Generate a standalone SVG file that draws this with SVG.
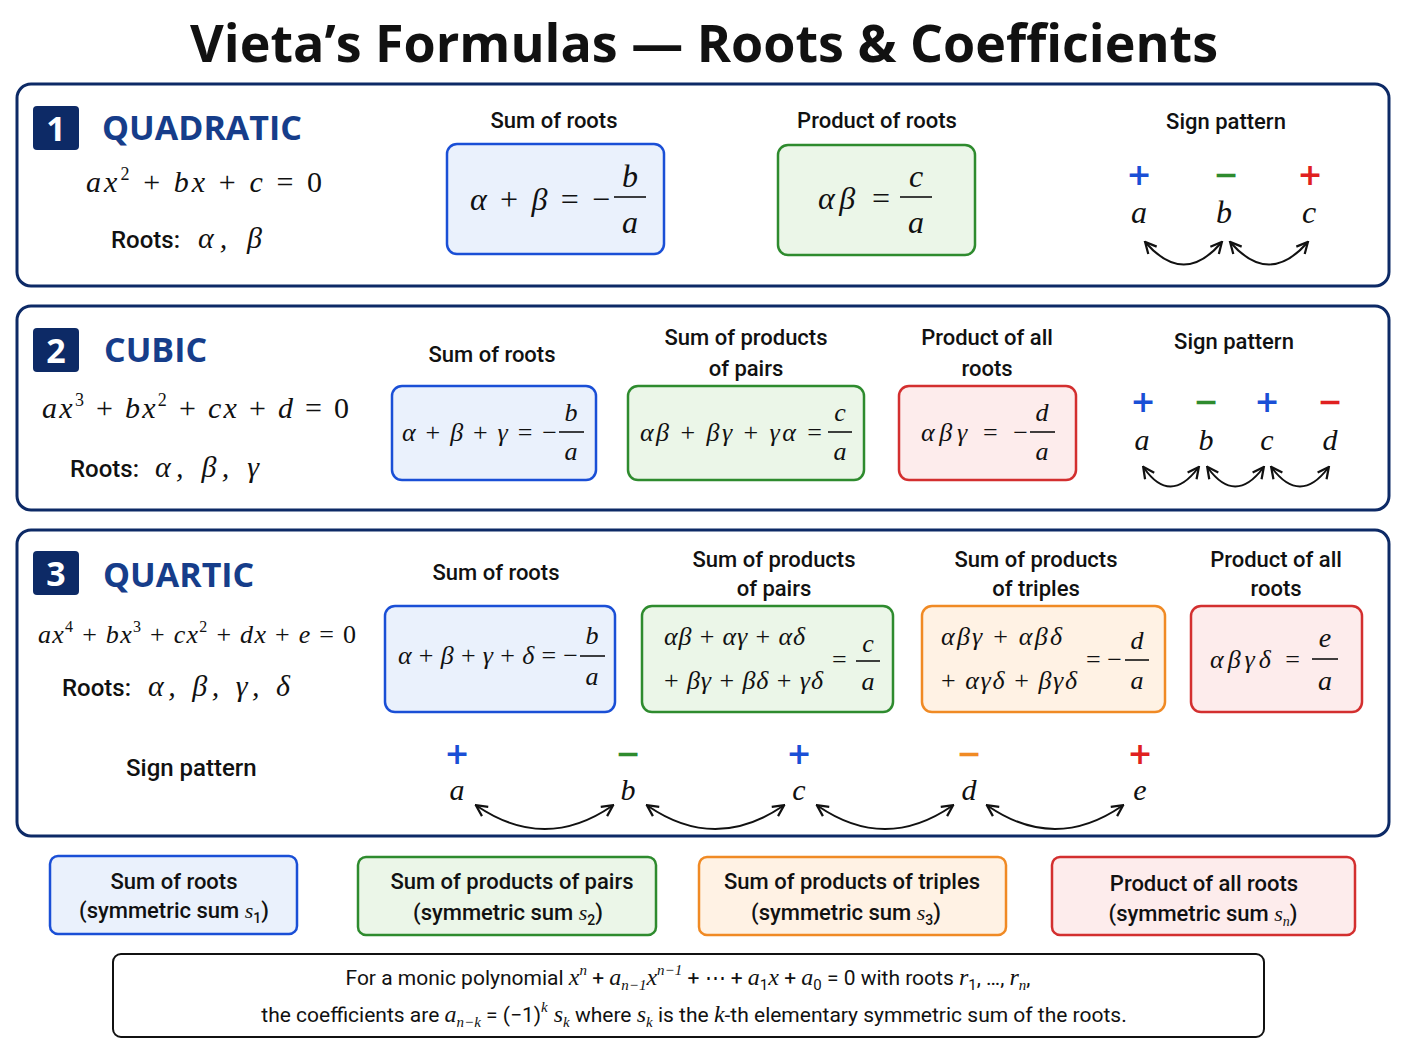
<svg xmlns="http://www.w3.org/2000/svg" width="1408" height="1056" viewBox="0 0 1408 1056">
<style>
.panel{fill:#fff;stroke:#0d2a66;stroke-width:3}
.badge{fill:#0d2a66}
.bt{font-family:"Open Sans","Liberation Sans",sans-serif;font-weight:700;font-size:34px;fill:#fff;text-anchor:middle}
.ttl{font-family:"Open Sans","Liberation Sans",sans-serif;font-weight:700;font-size:34px;fill:#163d8a}
.m{font-family:"Liberation Serif","DejaVu Serif",serif;font-style:italic;fill:#111}
.r{font-family:"Liberation Serif","DejaVu Serif",serif;fill:#111}
.h{font-family:"Roboto","Liberation Sans",sans-serif;font-weight:500;font-size:22px;fill:#111;text-anchor:middle}
.lbl{font-family:"Roboto","Liberation Sans",sans-serif;font-weight:500;font-size:24px;fill:#111}
.blue{fill:#eaf1fc;stroke:#1a4fd6;stroke-width:2.5}
.green{fill:#ebf6e8;stroke:#2e8b2e;stroke-width:2.5}
.red{fill:#fdecec;stroke:#d32f2f;stroke-width:2.5}
.orange{fill:#fff2e4;stroke:#f08a24;stroke-width:2.5}
.fl{stroke:#111;stroke-width:1.6}
.arc{fill:none;stroke:#111;stroke-width:2;marker-start:url(#ah);marker-end:url(#ah)}
.sg{font-family:"DejaVu Sans",sans-serif;font-size:30px;text-anchor:middle;font-weight:700}
.c{text-anchor:middle}
</style>
<defs>
<marker id="ah" viewBox="0 0 10 10" refX="8" refY="5" markerWidth="7" markerHeight="7" orient="auto-start-reverse"><path d="M1,1 L9,5 L1,9" fill="none" stroke="#111" stroke-width="1.6"/></marker>
</defs>
<rect width="1408" height="1056" fill="#fff"/>
<text x="704" y="62" text-anchor="middle" font-family="Open Sans,Liberation Sans,sans-serif" font-weight="700" font-size="52" fill="#111">Vieta’s Formulas — Roots &amp; Coefficients</text>

<g id="panel1">
<rect class="panel" x="17" y="84" width="1372" height="202" rx="14"/>
<rect class="badge" x="33" y="106" width="46" height="44" rx="4"/><text class="bt" x="56" y="141">1</text>
<text class="ttl" x="102" y="140">QUADRATIC</text>
<text class="m" x="86" y="192" font-size="30" textLength="236" lengthAdjust="spacing">ax<tspan font-size="18" dy="-12" font-style="normal">2</tspan><tspan dy="12" font-style="normal"> + </tspan>bx<tspan font-style="normal"> + </tspan>c<tspan font-style="normal"> = 0</tspan></text>
<text class="lbl" x="111" y="248">Roots:</text><text class="m" x="198" y="248" font-size="30" textLength="64" lengthAdjust="spacing">α, β</text>
<text class="h" x="554" y="128">Sum of roots</text>
<rect class="blue" x="447" y="144" width="217" height="110" rx="10"/>
<text class="m" x="470" y="210" font-size="32" textLength="140" lengthAdjust="spacing">α<tspan font-style="normal"> + </tspan>β<tspan font-style="normal"> = −</tspan></text>
<text class="m c" x="630" y="187" font-size="32">b</text><line class="fl" x1="614" y1="197" x2="646" y2="197"/><text class="m c" x="630" y="233" font-size="32">a</text>
<text class="h" x="877" y="128">Product of roots</text>
<rect class="green" x="778" y="145" width="197" height="110" rx="10"/>
<text class="m" x="818" y="209" font-size="32" textLength="72" lengthAdjust="spacing">αβ<tspan font-style="normal"> =</tspan></text>
<text class="m c" x="916" y="187" font-size="32">c</text><line class="fl" x1="900" y1="197" x2="932" y2="197"/><text class="m c" x="916" y="233" font-size="32">a</text>
<text class="h" x="1226" y="129">Sign pattern</text>
<text class="sg" x="1139" y="185" fill="#1a4fd6">+</text><text class="sg" x="1226" y="185" fill="#2e8b2e">−</text><text class="sg" x="1310" y="185" fill="#e02020">+</text>
<text class="m c" x="1139" y="223" font-size="32">a</text><text class="m c" x="1224" y="223" font-size="32">b</text><text class="m c" x="1309" y="223" font-size="32">c</text>
</g>

<g id="panel2">
<rect class="panel" x="17" y="306" width="1372" height="204" rx="14"/>
<rect class="badge" x="33" y="328" width="46" height="44" rx="4"/><text class="bt" x="56" y="363">2</text>
<text class="ttl" x="104" y="362">CUBIC</text>
<text class="m" x="42" y="418" font-size="30" textLength="307" lengthAdjust="spacing">ax<tspan font-size="18" dy="-12" font-style="normal">3</tspan><tspan dy="12" font-style="normal"> + </tspan>bx<tspan font-size="18" dy="-12" font-style="normal">2</tspan><tspan dy="12" font-style="normal"> + </tspan>cx<tspan font-style="normal"> + </tspan>d<tspan font-style="normal"> = 0</tspan></text>
<text class="lbl" x="70" y="477">Roots:</text><text class="m" x="155" y="477" font-size="30" textLength="104" lengthAdjust="spacing">α, β, γ</text>
<text class="h" x="492" y="362">Sum of roots</text>
<rect class="blue" x="392" y="386" width="204" height="94" rx="10"/>
<text class="m" x="402" y="441" font-size="26" textLength="155" lengthAdjust="spacing">α<tspan font-style="normal"> + </tspan>β<tspan font-style="normal"> + </tspan>γ<tspan font-style="normal"> = −</tspan></text>
<text class="m c" x="571" y="421" font-size="26">b</text><line class="fl" x1="559" y1="432" x2="584" y2="432"/><text class="m c" x="571" y="460" font-size="26">a</text>
<text class="h" x="746" y="345">Sum of products</text><text class="h" x="746" y="376">of pairs</text>
<rect class="green" x="628" y="386" width="236" height="94" rx="10"/>
<text class="m" x="640" y="441" font-size="26" textLength="182" lengthAdjust="spacing">αβ<tspan font-style="normal"> + </tspan>βγ<tspan font-style="normal"> + </tspan>γα<tspan font-style="normal"> =</tspan></text>
<text class="m c" x="840" y="421" font-size="26">c</text><line class="fl" x1="828" y1="432" x2="852" y2="432"/><text class="m c" x="840" y="460" font-size="26">a</text>
<text class="h" x="987" y="345">Product of all</text><text class="h" x="987" y="376">roots</text>
<rect class="red" x="899" y="386" width="177" height="94" rx="10"/>
<text class="m" x="921" y="441" font-size="26" textLength="107" lengthAdjust="spacing">αβγ<tspan font-style="normal"> = −</tspan></text>
<text class="m c" x="1042" y="421" font-size="26">d</text><line class="fl" x1="1030" y1="432" x2="1055" y2="432"/><text class="m c" x="1042" y="460" font-size="26">a</text>
<text class="h" x="1234" y="349">Sign pattern</text>
<text class="sg" x="1143" y="412" fill="#1a4fd6">+</text><text class="sg" x="1206" y="412" fill="#2e8b2e">−</text><text class="sg" x="1267" y="412" fill="#1a4fd6">+</text><text class="sg" x="1330" y="412" fill="#e02020">−</text>
<text class="m c" x="1142" y="450" font-size="30">a</text><text class="m c" x="1206" y="450" font-size="30">b</text><text class="m c" x="1267" y="450" font-size="30">c</text><text class="m c" x="1330" y="450" font-size="30">d</text>
</g>

<g id="panel3">
<rect class="panel" x="17" y="530" width="1372" height="306" rx="14"/>
<rect class="badge" x="33" y="551" width="46" height="44" rx="4"/><text class="bt" x="56" y="586">3</text>
<text class="ttl" x="103" y="587">QUARTIC</text>
<text class="m" x="38" y="643" font-size="26" textLength="318" lengthAdjust="spacing">ax<tspan font-size="16" dy="-11" font-style="normal">4</tspan><tspan dy="11" font-style="normal"> + </tspan>bx<tspan font-size="16" dy="-11" font-style="normal">3</tspan><tspan dy="11" font-style="normal"> + </tspan>cx<tspan font-size="16" dy="-11" font-style="normal">2</tspan><tspan dy="11" font-style="normal"> + </tspan>dx<tspan font-style="normal"> + </tspan>e<tspan font-style="normal"> = 0</tspan></text>
<text class="lbl" x="62" y="696">Roots:</text><text class="m" x="148" y="696" font-size="30" textLength="142" lengthAdjust="spacing">α, β, γ, δ</text>
<text class="h" x="496" y="580">Sum of roots</text>
<rect class="blue" x="385" y="606" width="230" height="106" rx="10"/>
<text class="m" x="398" y="664" font-size="26" textLength="180" lengthAdjust="spacing">α<tspan font-style="normal"> + </tspan>β<tspan font-style="normal"> + </tspan>γ<tspan font-style="normal"> + </tspan>δ<tspan font-style="normal"> = −</tspan></text>
<text class="m c" x="592" y="644" font-size="26">b</text><line class="fl" x1="580" y1="656" x2="605" y2="656"/><text class="m c" x="592" y="685" font-size="26">a</text>
<text class="h" x="774" y="567">Sum of products</text><text class="h" x="774" y="596">of pairs</text>
<rect class="green" x="642" y="606" width="251" height="106" rx="10"/>
<text class="m" x="664" y="645" font-size="26" textLength="141" lengthAdjust="spacing">αβ<tspan font-style="normal"> + </tspan>αγ<tspan font-style="normal"> + </tspan>αδ</text>
<text class="m" x="664" y="689" font-size="26" textLength="159" lengthAdjust="spacing"><tspan font-style="normal">+ </tspan>βγ<tspan font-style="normal"> + </tspan>βδ<tspan font-style="normal"> + </tspan>γδ</text>
<text class="r" x="832" y="668" font-size="26">=</text>
<text class="m c" x="868" y="652" font-size="26">c</text><line class="fl" x1="856" y1="661" x2="880" y2="661"/><text class="m c" x="868" y="690" font-size="26">a</text>
<text class="h" x="1036" y="567">Sum of products</text><text class="h" x="1036" y="596">of triples</text>
<rect class="orange" x="922" y="606" width="243" height="106" rx="10"/>
<text class="m" x="941" y="645" font-size="26" textLength="121" lengthAdjust="spacing">αβγ<tspan font-style="normal"> + </tspan>αβδ</text>
<text class="m" x="941" y="689" font-size="26" textLength="136" lengthAdjust="spacing"><tspan font-style="normal">+ </tspan>αγδ<tspan font-style="normal"> + </tspan>βγδ</text>
<text class="r" x="1086" y="668" font-size="26">= −</text>
<text class="m c" x="1137" y="649" font-size="26">d</text><line class="fl" x1="1125" y1="660" x2="1149" y2="660"/><text class="m c" x="1137" y="689" font-size="26">a</text>
<text class="h" x="1276" y="567">Product of all</text><text class="h" x="1276" y="596">roots</text>
<rect class="red" x="1191" y="606" width="171" height="106" rx="10"/>
<text class="m" x="1210" y="668" font-size="26" textLength="90" lengthAdjust="spacing">αβγδ<tspan font-style="normal"> =</tspan></text>
<text class="m c" x="1325" y="647" font-size="28">e</text><line class="fl" x1="1312" y1="659" x2="1338" y2="659"/><text class="m c" x="1325" y="690" font-size="28">a</text>
<text class="lbl" x="126" y="776">Sign pattern</text>
<text class="sg" x="457" y="764" fill="#1a4fd6">+</text><text class="sg" x="628" y="764" fill="#2e8b2e">−</text><text class="sg" x="799" y="764" fill="#1a4fd6">+</text><text class="sg" x="969" y="764" fill="#f08a24">−</text><text class="sg" x="1140" y="764" fill="#e02020">+</text>
<text class="m c" x="457" y="800" font-size="30">a</text><text class="m c" x="628" y="800" font-size="30">b</text><text class="m c" x="799" y="800" font-size="30">c</text><text class="m c" x="969" y="800" font-size="30">d</text><text class="m c" x="1140" y="800" font-size="30">e</text>
</g>

<g id="connectors">
<path class="arc" d="M1146,243 Q1184,286 1221,243"/>
<path class="arc" d="M1231,243 Q1269,286 1307,243"/>
<path class="arc" d="M1144,468 Q1170,505 1198,468"/>
<path class="arc" d="M1208,468 Q1235,505 1263,468"/>
<path class="arc" d="M1272,468 Q1300,505 1328,468"/>
<path class="arc" d="M477,806 Q545,852 612,806"/>
<path class="arc" d="M648,806 Q715,852 783,806"/>
<path class="arc" d="M818,806 Q885,852 952,806"/>
<path class="arc" d="M988,806 Q1055,852 1122,806"/>
</g>

<g id="legend">
<rect class="blue" x="50" y="856" width="247" height="78" rx="8"/>
<text class="h" x="174" y="889">Sum of roots</text><text class="h" x="174" y="918" font-weight="400">(symmetric sum <tspan class="m">s</tspan><tspan font-size="14" dy="5">1</tspan><tspan dy="-5">)</tspan></text>
<rect class="green" x="358" y="857" width="298" height="78" rx="8"/>
<text class="h" x="512" y="889">Sum of products of pairs</text><text class="h" x="508" y="920" font-weight="400">(symmetric sum <tspan class="m">s</tspan><tspan font-size="14" dy="5">2</tspan><tspan dy="-5">)</tspan></text>
<rect class="orange" x="699" y="857" width="307" height="78" rx="8"/>
<text class="h" x="852" y="889">Sum of products of triples</text><text class="h" x="846" y="920" font-weight="400">(symmetric sum <tspan class="m">s</tspan><tspan font-size="14" dy="5">3</tspan><tspan dy="-5">)</tspan></text>
<rect class="red" x="1052" y="857" width="303" height="78" rx="8"/>
<text class="h" x="1204" y="891">Product of all roots</text><text class="h" x="1203" y="921" font-weight="400">(symmetric sum <tspan class="m">s</tspan><tspan font-size="14" dy="5" font-style="italic" font-family="Liberation Serif,serif">n</tspan><tspan dy="-5">)</tspan></text>
</g>

<g id="footer">
<rect x="113" y="954" width="1151" height="83" rx="8" fill="#fff" stroke="#111" stroke-width="2"/>
<text x="688" y="985" text-anchor="middle" font-family="Roboto,Liberation Sans,sans-serif" font-size="21" fill="#111">For a monic polynomial <tspan class="m" font-size="24">x</tspan><tspan class="m" font-size="15" dy="-10">n</tspan><tspan dy="10"> + </tspan><tspan class="m" font-size="24">a</tspan><tspan class="m" font-size="15" dy="5">n−1</tspan><tspan class="m" font-size="24" dy="-5">x</tspan><tspan class="m" font-size="15" dy="-10">n−1</tspan><tspan dy="10"> + ⋯ + </tspan><tspan class="m" font-size="24">a</tspan><tspan font-size="15" dy="5">1</tspan><tspan class="m" font-size="24" dy="-5">x</tspan><tspan> + </tspan><tspan class="m" font-size="24">a</tspan><tspan font-size="15" dy="5">0</tspan><tspan dy="-5"> = 0 with roots </tspan><tspan class="m" font-size="24">r</tspan><tspan font-size="15" dy="5">1</tspan><tspan dy="-5">, …, </tspan><tspan class="m" font-size="24">r</tspan><tspan class="m" font-size="15" dy="5">n</tspan><tspan dy="-5">,</tspan></text>
<text x="694" y="1022" text-anchor="middle" font-family="Roboto,Liberation Sans,sans-serif" font-size="21" fill="#111">the coefficients are <tspan class="m" font-size="24">a</tspan><tspan class="m" font-size="15" dy="5">n−k</tspan><tspan dy="-5"> = (−1)</tspan><tspan class="m" font-size="15" dy="-10">k</tspan><tspan class="m" font-size="24" dy="10"> s</tspan><tspan class="m" font-size="15" dy="5">k</tspan><tspan dy="-5"> where </tspan><tspan class="m" font-size="24">s</tspan><tspan class="m" font-size="15" dy="5">k</tspan><tspan dy="-5"> is the </tspan><tspan class="m" font-size="24">k</tspan><tspan>-th elementary symmetric sum of the roots.</tspan></text>
</g>
</svg>
